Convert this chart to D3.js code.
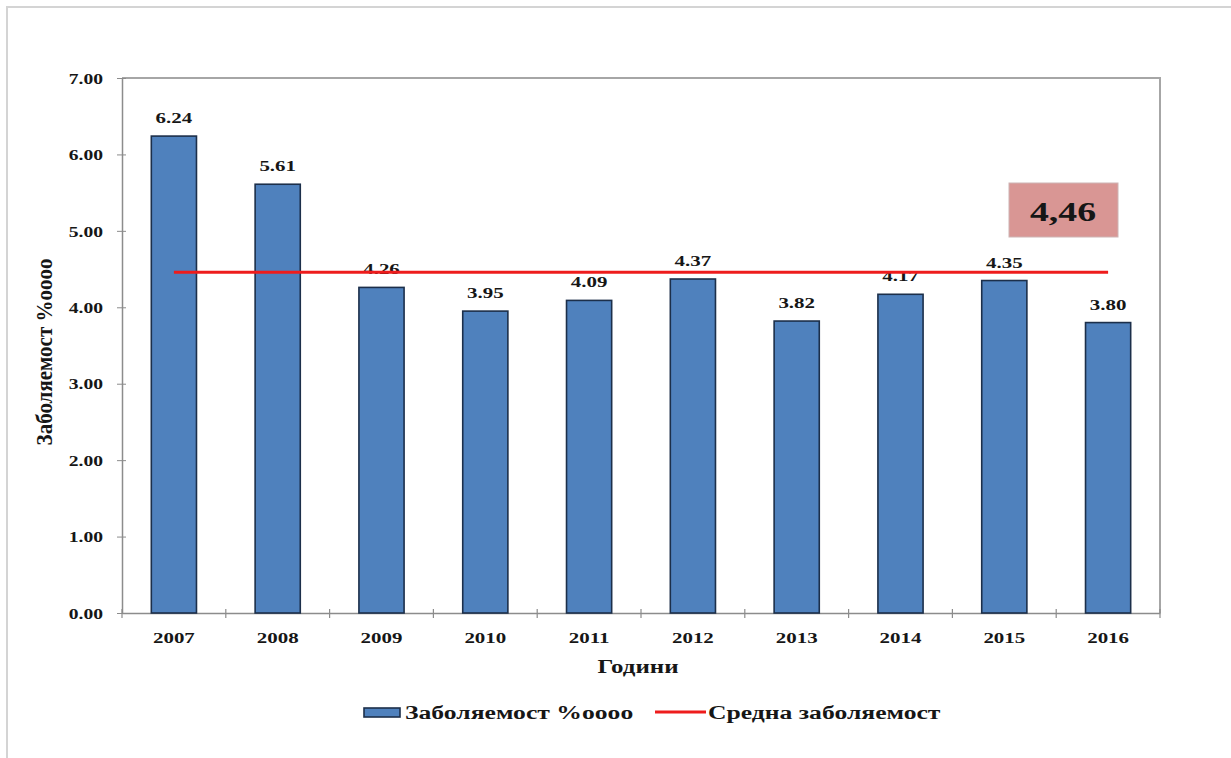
<!DOCTYPE html>
<html>
<head>
<meta charset="utf-8">
<script src="https://cdn.jsdelivr.net/npm/d3@7"></script>
<style>
html,body{margin:0;padding:0;background:#fff;}
svg{display:block;}
text{font-family:"Liberation Serif","Times New Roman",serif;font-weight:bold;fill:#161616;}
</style>
</head>
<body>
<svg id="chart" width="1231" height="758"></svg>
<script>
const years = ["2007","2008","2009","2010","2011","2012","2013","2014","2015","2016"];
const incidence = [6.24, 5.61, 4.26, 3.95, 4.09, 4.37, 3.82, 4.17, 4.35, 3.80];
const averageValue = 4.46;
const averageLabel = "4,46";
const yTicks = [0, 1, 2, 3, 4, 5, 6, 7];
const seriesNames = ["Заболяемост %oooo", "Средна заболяемост"];
const yTitle = "Заболяемост %oooo";
const xTitle = "Години";

const SX = 1.35; // horizontal stretch of text as in the reference
const svg = d3.select("#chart");
const L = 122, R = 1160, T = 78, B = 613;

function stretchedText(parent, px, py, anchor, size, str) {
  return parent.append("text")
    .attr("transform", `translate(${px},${py}) scale(${SX},1)`)
    .attr("text-anchor", anchor).attr("font-size", size).text(str);
}

// outer frame
svg.append("path").attr("d", `M7,758 L7,7 L1231,7`).attr("fill","none")
  .attr("stroke","#d4d4d4").attr("stroke-width",2);

const x = d3.scaleBand().domain(years).range([L, R]).paddingInner(0.565).paddingOuter(0.2825);
const y = d3.scaleLinear().domain([0, 7]).range([B, T]);

// plot border (top/right)
svg.append("path").attr("d", `M${L},${T} L${R},${T} L${R},${B}`).attr("fill","none")
  .attr("stroke","#a6a6a6").attr("stroke-width",2);

// y axis
const yAxis = svg.append("g").attr("transform", `translate(${L},0)`)
  .call(d3.axisLeft(y).tickValues(yTicks).tickFormat(d3.format(".2f")).tickSize(5).tickSizeOuter(0));
yAxis.select(".domain").attr("stroke","#8c8c8c").attr("stroke-width",1.5);
yAxis.selectAll(".tick line").attr("stroke","#8c8c8c").attr("x1",4).attr("x2",-5);
yAxis.selectAll(".tick text")
  .attr("x", -19 / SX).attr("dy", "0.36em").attr("transform", `scale(${SX},1)`)
  .attr("font-size",14.5).attr("fill","#161616")
  .style("font-family","'Liberation Serif',serif").style("font-weight","bold");

// x axis
const step = x.step();
const xAxis = svg.append("g").attr("transform", `translate(0,${B})`)
  .call(d3.axisBottom(x).tickSize(0).tickSizeOuter(0));
xAxis.select(".domain").attr("stroke","#8c8c8c").attr("stroke-width",1.5);
xAxis.selectAll(".tick text")
  .attr("y", 30).attr("dy", null).attr("transform", `scale(${SX},1)`)
  .attr("font-size",15.5).attr("fill","#161616")
  .style("font-family","'Liberation Serif',serif").style("font-weight","bold");
// category boundary ticks
svg.append("g").selectAll("line").data(d3.range(years.length + 1)).join("line")
  .attr("x1", i => L + i * step).attr("x2", i => L + i * step)
  .attr("y1", B - 4).attr("y2", B + 5).attr("stroke","#8c8c8c").attr("stroke-width",1.2);

// bars
svg.append("g").selectAll("rect").data(years).join("rect")
  .attr("x", d => x(d)).attr("width", x.bandwidth())
  .attr("y", (d, i) => y(incidence[i])).attr("height", (d, i) => B - y(incidence[i]))
  .attr("fill","#4f81bd").attr("stroke","#1c2f4a").attr("stroke-width",1.6);

// value labels
const labels = svg.append("g");
years.forEach((d, i) => {
  stretchedText(labels, x(d) + x.bandwidth() / 2, y(incidence[i]) - 13, "middle", 15.5, incidence[i].toFixed(2));
});

// average line
svg.append("line")
  .attr("x1", x(years[0]) + x.bandwidth() / 2).attr("x2", x(years[years.length - 1]) + x.bandwidth() / 2)
  .attr("y1", y(averageValue)).attr("y2", y(averageValue))
  .attr("stroke","#ee1c1c").attr("stroke-width",3);

// average box
svg.append("rect").attr("x",1009).attr("y",183).attr("width",109).attr("height",54)
  .attr("fill","#d99694").attr("stroke","#cdb4b4").attr("stroke-width",1);
stretchedText(svg, 1063, 221, "middle", 28, averageLabel);

// axis titles
svg.append("text").attr("transform", `translate(52,352) scale(1.1,1) rotate(-90)`)
  .attr("text-anchor","middle").attr("font-size",21).text(yTitle);
stretchedText(svg, (L + R) / 2 - 3, 673, "middle", 18.5, xTitle);

// legend
const lg = svg.append("g");
lg.append("rect").attr("x",364).attr("y",708).attr("width",36).attr("height",9)
  .attr("fill","#4f81bd").attr("stroke","#1c2f4a").attr("stroke-width",1.6);
stretchedText(lg, 405, 719, "start", 19, seriesNames[0]);
lg.append("line").attr("x1",655).attr("x2",706).attr("y1",712).attr("y2",712)
  .attr("stroke","#ee1c1c").attr("stroke-width",3);
stretchedText(lg, 708, 719, "start", 19, seriesNames[1]);
</script>
</body>
</html>
